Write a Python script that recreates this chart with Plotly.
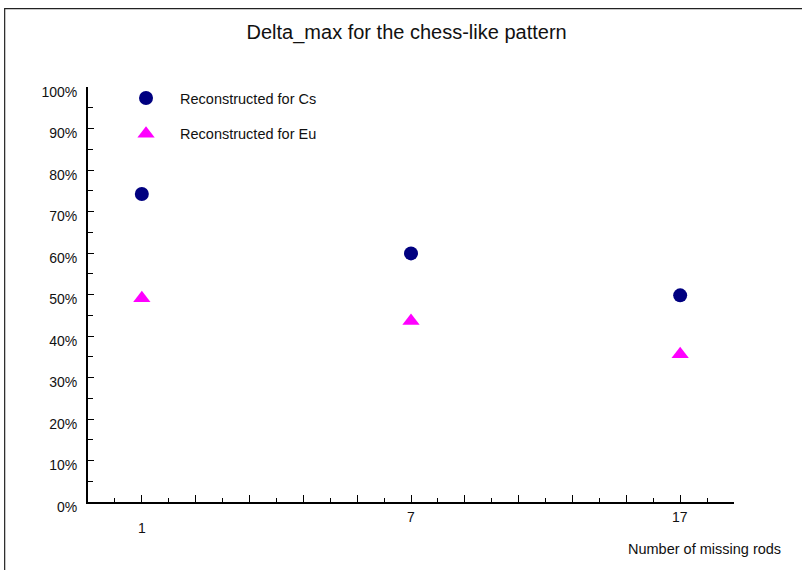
import plotly.graph_objects as go

# Categories on the x axis and their evenly spaced slots
categories = ["1", "7", "17"]
slots = [1, 6, 11]

# Delta_max (%) per series
cs_values = [74.2, 59.9, 49.8]
eu_values = [49.1, 43.6, 35.6]

series_names = ["Reconstructed for Cs", "Reconstructed for Eu"]
y_ticks = list(range(0, 101, 10))

FONT = "Liberation Sans, Arial, sans-serif"

fig = go.Figure()
fig.add_trace(go.Scatter(
    x=slots, y=cs_values, mode="markers", name=series_names[0],
    legendgroup="cs",
    marker=dict(symbol="circle", size=14, color="#000080"),
))
fig.add_trace(go.Scatter(
    x=slots, y=eu_values, mode="markers", name=series_names[1],
    legendgroup="eu",
    marker=dict(symbol="triangle-up", size=15, color="#FF00FF"),
))

# Category labels under the axis; the first one sits a little lower
label_offsets = [-0.0627, -0.0373, -0.0373]
for pos, text, yo in zip(slots, categories, label_offsets):
    fig.add_annotation(x=pos, y=yo, xref="x", yref="paper", text=text,
                       showarrow=False, xanchor="center", yanchor="middle",
                       font=dict(family=FONT, size=14, color="#111"))

fig.add_annotation(x=1.0754, y=-0.1133, xref="paper", yref="paper",
                   text="Number of missing rods", showarrow=False,
                   xanchor="right", yanchor="middle",
                   font=dict(family=FONT, size=14.5, color="#111"))

# Frame around the chart
fig.add_shape(type="rect", xref="paper", yref="paper",
              x0=-0.129, x1=1.2, y0=-0.3, y1=1.1887,
              line=dict(color="#222", width=1.2), fillcolor="rgba(0,0,0,0)")

fig.update_layout(
    width=802, height=570,
    margin=dict(l=88, r=68, t=87, b=68),
    paper_bgcolor="white", plot_bgcolor="white",
    font=dict(family=FONT, size=14, color="#111"),
    title=dict(text="Delta_max for the chess-like pattern",
               x=0.507, y=0.944, xref="container", yref="container",
               xanchor="center", yanchor="middle",
               font=dict(family=FONT, size=20, color="#111")),
    showlegend=True,
    legend=dict(x=0.0372, y=1.012, xanchor="left", yanchor="top",
                bgcolor="rgba(0,0,0,0)", borderwidth=0,
                font=dict(family=FONT, size=14.5, color="#111"),
                itemsizing="trace", itemwidth=58, tracegroupgap=14),
    xaxis=dict(range=[0, 12], showgrid=False, zeroline=False,
               showline=True, linecolor="black", linewidth=2,
               tickmode="array", tickvals=list(range(1, 12)),
               ticks="inside", ticklen=7, tickwidth=1.3, tickcolor="black",
               showticklabels=False,
               minor=dict(tick0=0, dtick=0.5, ticks="inside", ticklen=4,
                          tickwidth=1.2, tickcolor="black", showgrid=False)),
    yaxis=dict(range=[0, 100], showgrid=False, zeroline=False,
               showline=True, linecolor="black", linewidth=2,
               tickmode="array", tickvals=y_ticks,
               ticktext=[f"{v}%" for v in y_ticks],
               ticks="inside", ticklen=6, tickwidth=1.3, tickcolor="black",
               ticklabelshift=5, ticklabelstandoff=6,
               tickfont=dict(family=FONT, size=14, color="#111"),
               minor=dict(tick0=0, dtick=5, ticks="inside", ticklen=5,
                          tickwidth=1.2, tickcolor="black", showgrid=False)),
)

fig.write_html("out.html")
